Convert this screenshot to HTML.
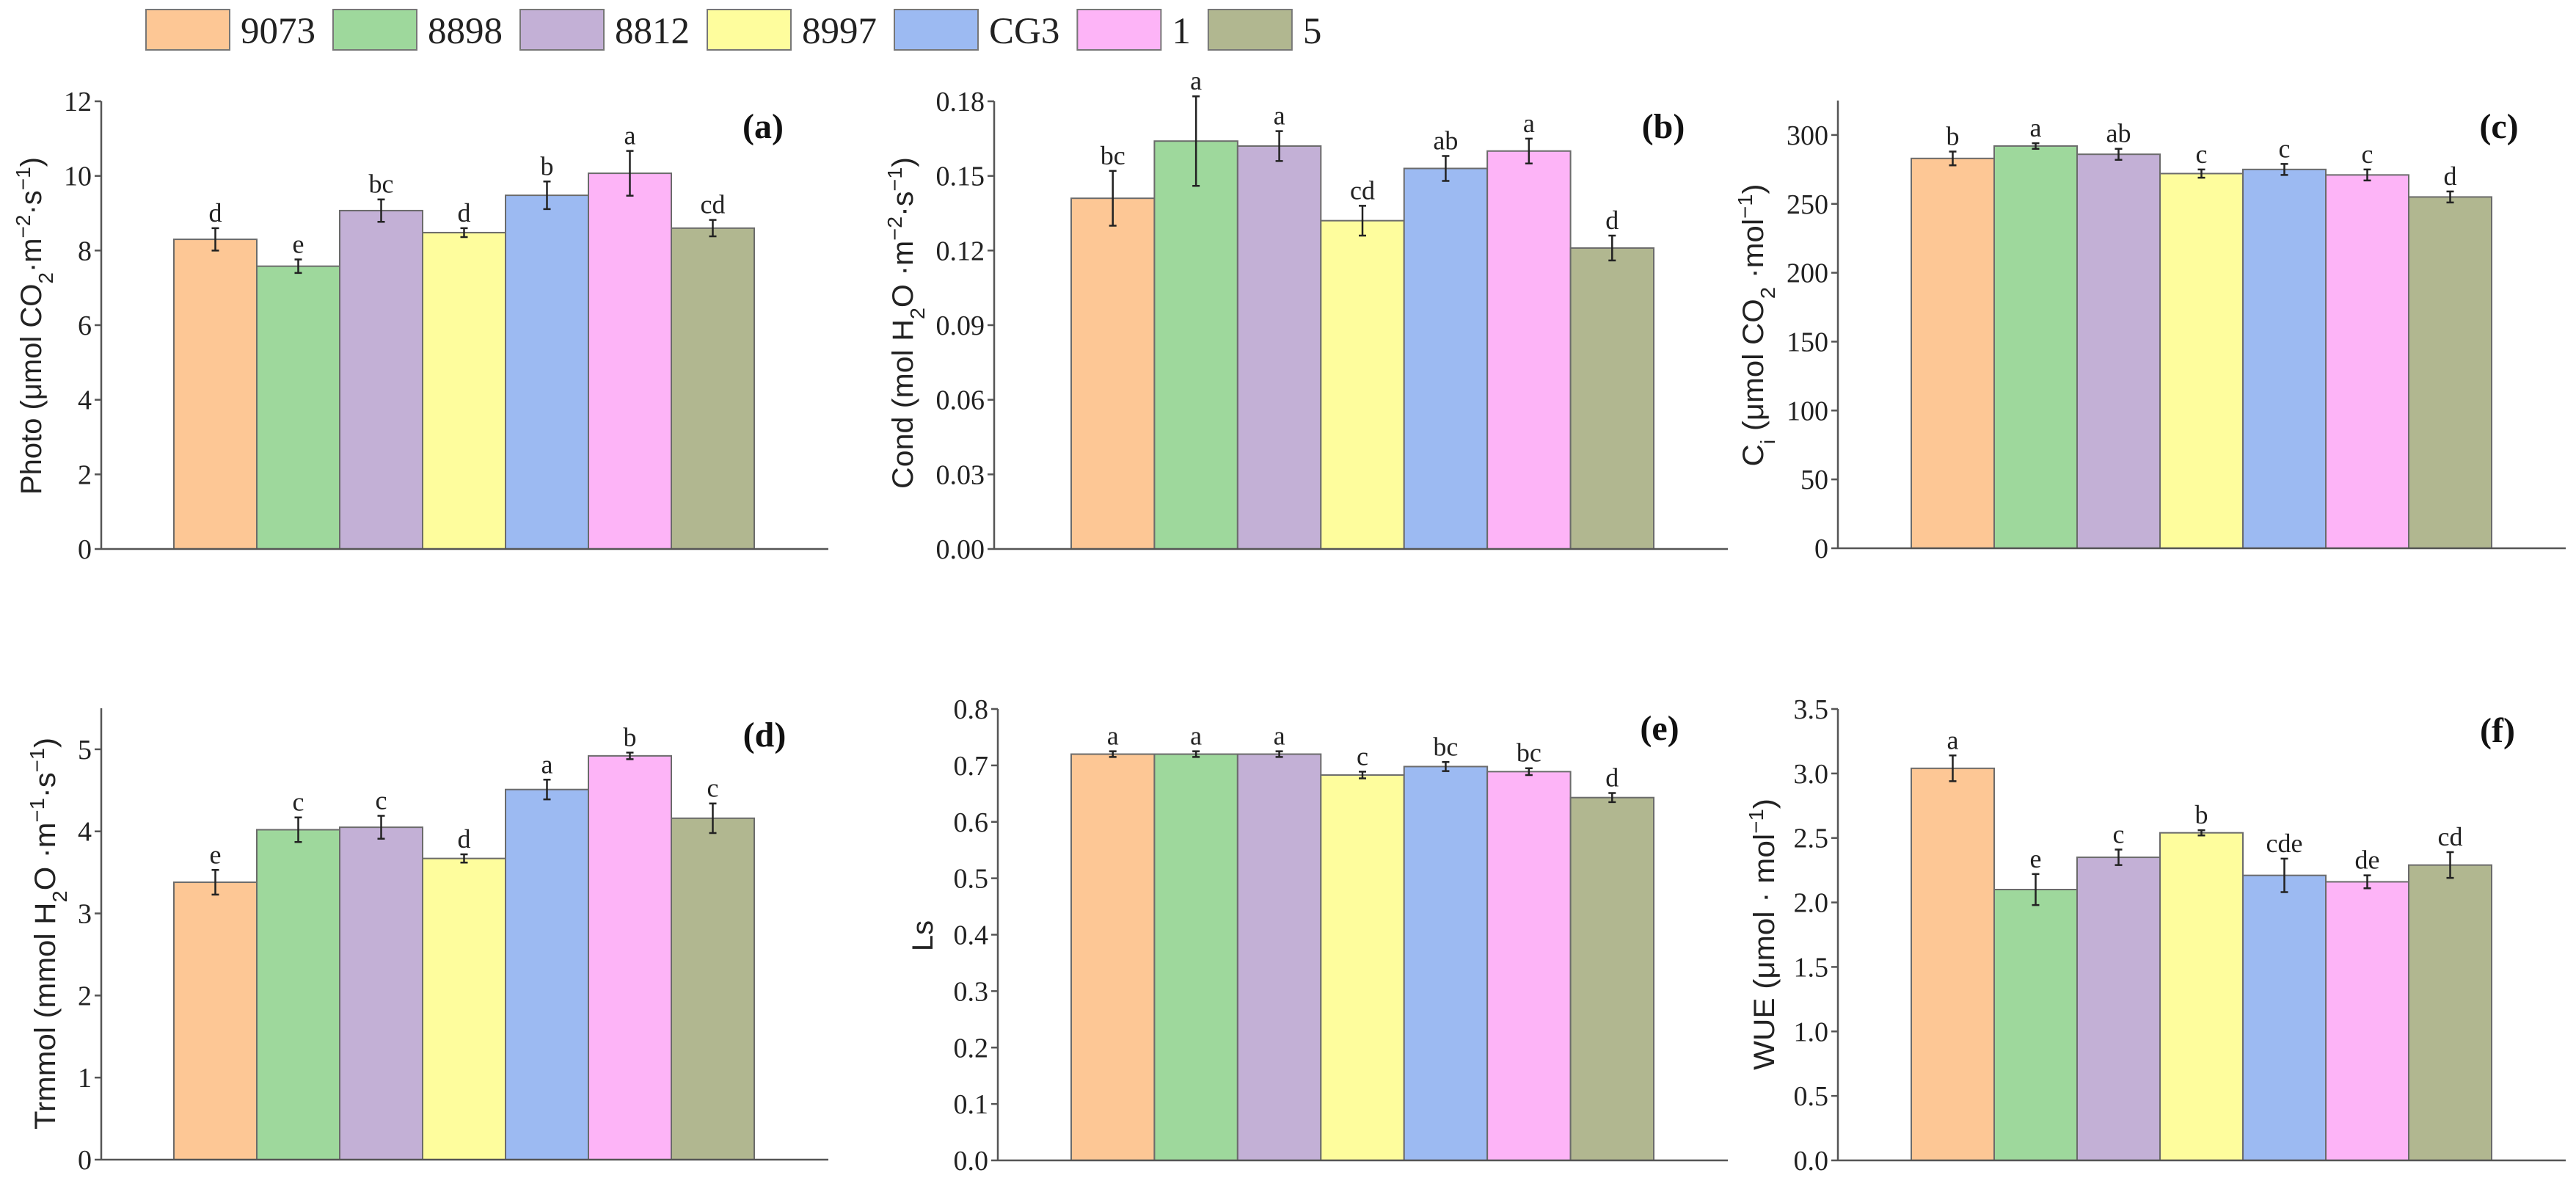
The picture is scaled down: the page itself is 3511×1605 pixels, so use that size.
<!DOCTYPE html>
<html><head><meta charset="utf-8"><style>
html,body{margin:0;padding:0;background:#fff;}
svg{display:block;}
.tick{font-family:"Liberation Serif",serif;font-size:38px;fill:#222;}
.let{font-family:"Liberation Serif",serif;font-size:36px;fill:#222;}
.plab{font-family:"Liberation Serif",serif;font-size:48px;font-weight:bold;fill:#111;}
.ytitle{font-family:"Liberation Sans",sans-serif;font-size:40px;fill:#222;}
.leg{font-family:"Liberation Serif",serif;font-size:51px;fill:#222;}
</style></head><body>
<svg id="fig" width="3511" height="1605" viewBox="0 0 3511 1605" xmlns="http://www.w3.org/2000/svg">
<g id="legend"></g>
<g id="plots"></g>
</svg>
<script>
const categories = ["9073","8898","8812","8997","CG3","1","5"];
const colors = ["#FDC795","#9ED89C","#C3B0D6","#FEFD9D","#9CBAF2","#FDB4F7","#B1B790"];

const photoVals = [8.30,7.58,9.07,8.48,9.48,10.07,8.60];
const photoErr = [0.30,0.18,0.30,0.12,0.37,0.60,0.22];
const photoLet = ["d","e","bc","d","b","a","cd"];
const photoTicks = ["0","2","4","6","8","10","12"];

const condVals = [0.141,0.164,0.162,0.132,0.153,0.160,0.121];
const condErr = [0.011,0.018,0.006,0.006,0.005,0.005,0.005];
const condLet = ["bc","a","a","cd","ab","a","d"];
const condTicks = ["0.00","0.03","0.06","0.09","0.12","0.15","0.18"];

const ciVals = [283,292,286,272,275,271,255];
const ciErr = [5,2,4,3,4,4,4];
const ciLet = ["b","a","ab","c","c","c","d"];
const ciTicks = ["0","50","100","150","200","250","300"];

const trVals = [3.38,4.02,4.05,3.67,4.51,4.92,4.16];
const trErr = [0.15,0.15,0.14,0.05,0.12,0.04,0.18];
const trLet = ["e","c","c","d","a","b","c"];
const trTicks = ["0","1","2","3","4","5"];

const lsVals = [0.720,0.720,0.720,0.683,0.698,0.689,0.643];
const lsErr = [0.005,0.005,0.005,0.006,0.008,0.006,0.008];
const lsLet = ["a","a","a","c","bc","bc","d"];
const lsTicks = ["0.0","0.1","0.2","0.3","0.4","0.5","0.6","0.7","0.8"];

const wueVals = [3.04,2.10,2.35,2.54,2.21,2.16,2.29];
const wueErr = [0.10,0.12,0.06,0.02,0.13,0.05,0.10];
const wueLet = ["a","e","c","b","cde","de","cd"];
const wueTicks = ["0.0","0.5","1.0","1.5","2.0","2.5","3.0","3.5"];

const NS="http://www.w3.org/2000/svg";
function mk(tag,attrs,parent){const e=document.createElementNS(NS,tag);for(const k in attrs)e.setAttribute(k,attrs[k]);parent.appendChild(e);return e;}

// legend
const leg=document.getElementById('legend');
let lx=199;
categories.forEach((c,i)=>{
  const r=mk('rect',{x:lx,y:13,width:114,height:55,fill:colors[i],stroke:'#777','stroke-width':2},leg);
  
  
  const t=mk('text',{x:lx+129,y:59,class:'leg'},leg);
  t.textContent=c;
  
  
  const w=t.getComputedTextLength();
  lx+=129+w+24;
});

const panels=[
 {id:'photo',label:'(a)',ax:138,x0:237,xe:1129,y0:748,yt:138,max:12,ticks:photoTicks,vals:photoVals,err:photoErr,lets:photoLet,lx:1040,ly:188,
  tx:42,ty:444,tlen:460,title:'Photo  (μmol CO<tspan baseline-shift="sub" font-size="28">2</tspan>·m<tspan baseline-shift="super" font-size="28">−2</tspan>·s<tspan baseline-shift="super" font-size="28">−1</tspan>)'},
 {id:'cond',label:'(b)',ax:1355,x0:1460,xe:2355,y0:748,yt:138,max:0.18,ticks:condTicks,vals:condVals,err:condErr,lets:condLet,lx:2267,ly:188,
  tx:1230,ty:440,tlen:452,title:'Cond  (mol H<tspan baseline-shift="sub" font-size="28">2</tspan>O ·m<tspan baseline-shift="super" font-size="28">−2</tspan>·s<tspan baseline-shift="super" font-size="28">−1</tspan>)'},
 {id:'ci',label:'(c)',ax:2505,x0:2605,xe:3497,y0:747,yt:137,max:325,ticks:ciTicks,vals:ciVals,err:ciErr,lets:ciLet,lx:3406,ly:188,
  tx:2389,ty:443,tlen:385,title:'C<tspan baseline-shift="sub" font-size="28">i</tspan>  (μmol CO<tspan baseline-shift="sub" font-size="28">2</tspan> ·mol<tspan baseline-shift="super" font-size="28">−1</tspan>)'},
 {id:'trmmol',label:'(d)',ax:138,x0:237,xe:1129,y0:1580,yt:965,max:5.5,ticks:trTicks,vals:trVals,err:trErr,lets:trLet,lx:1042,ly:1017,
  tx:61,ty:1272,tlen:534,title:'Trmmol  (mmol H<tspan baseline-shift="sub" font-size="28">2</tspan>O ·m<tspan baseline-shift="super" font-size="28">−1</tspan>·s<tspan baseline-shift="super" font-size="28">−1</tspan>)'},
 {id:'ls',label:'(e)',ax:1360,x0:1460,xe:2355,y0:1581,yt:966,max:0.8,ticks:lsTicks,vals:lsVals,err:lsErr,lets:lsLet,lx:2262,ly:1008,
  tx:1257,ty:1275,tlen:null,title:'Ls'},
 {id:'wue',label:'(f)',ax:2505,x0:2605,xe:3497,y0:1581,yt:966,max:3.5,ticks:wueTicks,vals:wueVals,err:wueErr,lets:wueLet,lx:3404,ly:1011,
  tx:2404,ty:1273,tlen:370,title:'WUE  (μmol · mol<tspan baseline-shift="super" font-size="28">−1</tspan>)'}
];

const plots=document.getElementById('plots');
panels.forEach(p=>{
  const g=mk('g',{},plots);
  
  
  const y=v=>p.y0-(v/p.max)*(p.y0-p.yt);
  const bw=(p.xe-p.x0-101)/categories.length;
  const xb=i=>p.x0+i*bw;
  p.vals.forEach((v,i)=>{
    const r=mk('rect',{x:xb(i),y:y(v),width:bw,height:p.y0-y(v),fill:colors[i],stroke:'#6b6b6b','stroke-width':2},g);
    
    
    const cx=xb(i)+bw/2, hi=y(v+p.err[i]), lo=y(v-p.err[i]);
    const e=mk('path',{d:`M${cx},${hi}V${lo}M${cx-5},${hi}H${cx+5}M${cx-5},${lo}H${cx+5}`,stroke:'#222','stroke-width':2.5,fill:'none'},g);
    
    
    const t=mk('text',{x:cx,y:hi-9,'text-anchor':'middle',class:'let'},g);
    t.textContent=p.lets[i];
    
    
  });
  const ya=mk('line',{x1:p.ax,y1:p.yt,x2:p.ax,y2:p.y0,stroke:'#555','stroke-width':2.5},g);
  
  
  const xa=mk('line',{x1:p.ax,y1:p.y0,x2:p.xe,y2:p.y0,stroke:'#555','stroke-width':2.5},g);
  
  
  p.ticks.forEach(lbl=>{
    const v=parseFloat(lbl), ty=y(v);
    mk('line',{x1:p.ax-9,y1:ty,x2:p.ax,y2:ty,stroke:'#555','stroke-width':2.5},g);
    const t=mk('text',{x:p.ax-13,y:ty+13,'text-anchor':'end',class:'tick'},g);
    t.textContent=lbl;
    
    
  });
  const pl=mk('text',{x:p.lx,y:p.ly,'text-anchor':'middle',class:'plab'},g);
  pl.textContent=p.label;
  
  
  const yt=mk('text',{x:0,y:0,'text-anchor':'middle',class:'ytitle',transform:`translate(${p.tx+14},${p.ty}) rotate(-90)`},g);
  if(p.id==='ls'){yt.setAttribute('font-size','48');}
  if(p.tlen){yt.setAttribute('textLength',p.tlen);yt.setAttribute('lengthAdjust','spacingAndGlyphs');}
  yt.innerHTML=p.title;
  
  
});
</script>
</body></html>
